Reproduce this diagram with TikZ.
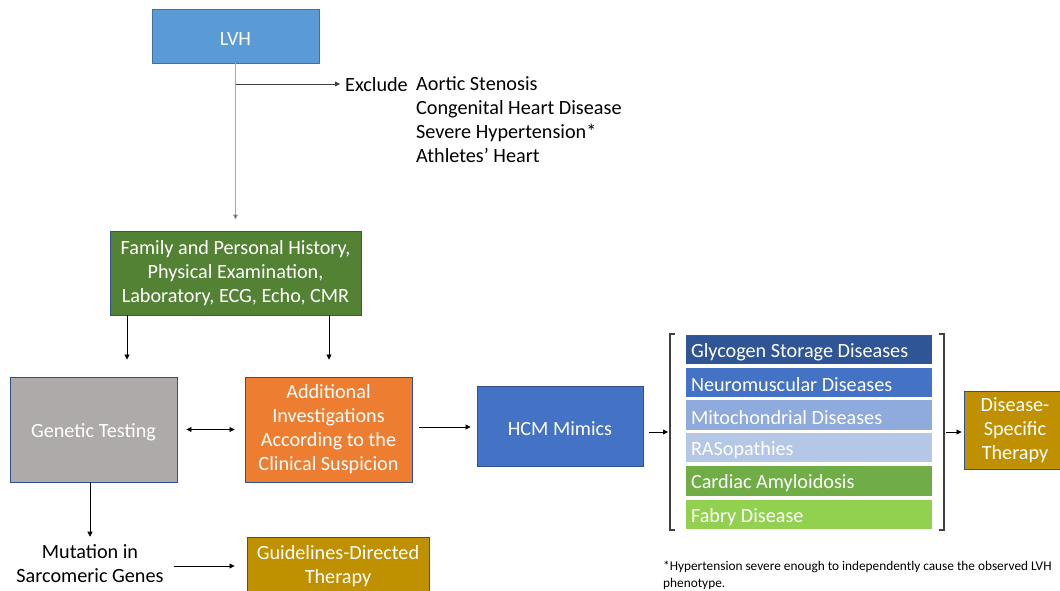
\documentclass[tikz,border=0pt]{standalone}
\usepackage{fontspec}
\setmainfont{Carlito}
\usetikzlibrary{arrows.meta}
\definecolor{lvhc}{HTML}{5B9BD5}
\definecolor{lvhb}{HTML}{41719C}
\definecolor{bordc}{HTML}{2F528F}
\definecolor{famc}{HTML}{548235}
\definecolor{genc}{HTML}{AEAAAA}
\definecolor{addc}{HTML}{ED7D31}
\definecolor{hcmc}{HTML}{4472C4}
\definecolor{goldc}{HTML}{BF9000}
\definecolor{l1}{HTML}{2F5597}
\definecolor{l2}{HTML}{4472C4}
\definecolor{l3}{HTML}{8FAADC}
\definecolor{l4}{HTML}{B4C7E7}
\definecolor{l5}{HTML}{70AD47}
\definecolor{l6}{HTML}{92D050}
\definecolor{dgray}{HTML}{404040}
\definecolor{lgray}{HTML}{A6A6A6}
\tikzset{
  box/.style={draw=bordc, line width=0.9pt, text=white, align=flush center, inner sep=0pt, execute at begin node={\rule{0pt}{19pt}}},
  bar/.style={draw=white, line width=1.2pt, text=white, align=flush left, text width=236pt, inner xsep=6pt, inner ysep=0pt, minimum width=248pt, minimum height=31pt, execute at begin node={\rule{0pt}{19pt}}},
  arr/.style={line width=0.8pt, -{Triangle[length=5pt,width=5pt]}},
  darr/.style={line width=0.8pt, {Triangle[length=5pt,width=5pt]}-{Triangle[length=5pt,width=5pt]}},
  brk/.style={draw=dgray, line width=1.1pt},
  plain/.style={inner sep=0pt, align=flush center}
}
\begin{document}
\begin{tikzpicture}[x=1pt,y=-1pt,font=\fontsize{20.2}{24}\selectfont]
\useasboundingbox (0,0) rectangle (1060,591);
% boxes
\node[box, fill=lvhc, draw=lvhb, minimum width=167pt, minimum height=54pt] (lvh) at (235.5,36) {LVH};
\node[box, fill=famc, minimum width=251pt, minimum height=84pt] (fam) at (235.5,273) {Family and Personal History,\\Physical Examination,\\Laboratory, ECG, Echo, CMR};
\node[box, fill=genc, minimum width=167pt, minimum height=105pt] (gen) at (93.5,429.5) {Genetic Testing};
\node[box, fill=addc, minimum width=167pt, minimum height=105pt] (add) at (328.5,429.5) {Additional\\Investigations\\According to the\\Clinical Suspicion};
\node[box, fill=hcmc, minimum width=166pt, minimum height=80pt] (hcm) at (560,426) {HCM Mimics};
\node[box, fill=goldc, minimum width=102pt, minimum height=78pt] (ds) at (1015,430) {Disease-\\Specific\\Therapy};
\node[box, fill=goldc, minimum width=182pt, minimum height=58pt] (gdt) at (338,566) {Guidelines-Directed\\Therapy};
\node[plain] (mut) at (90,564) {Mutation in\\Sarcomeric Genes};
% exclude text
\node[plain, anchor=west] (exc) at (345,85) {Exclude};
\node[plain, anchor=west, align=flush left] (exl) at (416,120) {Aortic Stenosis\\Congenital Heart Disease\\Severe Hypertension*\\Athletes’ Heart};
% list bars
\node[bar, fill=l1] (g1) at (809,349.5) {Glycogen Storage Diseases};
\node[bar, fill=l2] (g2) at (809,382.5) {Neuromuscular Diseases};
\node[bar, fill=l3] (g3) at (809,415) {Mitochondrial Diseases};
\node[bar, fill=l4] (g4) at (809,447.5) {RASopathies};
\node[bar, fill=l5] (g5) at (809,481) {Cardiac Amyloidosis};
\node[bar, fill=l6] (g6) at (809,514.5) {Fabry Disease};
% brackets
\coordinate (bl) at (670,432);
\coordinate (br) at (944,432);
\draw[brk] (675,334) -- (670,334) -- (670,530) -- (675,530);
\draw[brk] (939,334) -- (944,334) -- (944,530) -- (939,530);
% connectors
\coordinate (xa) at (127,0);
\coordinate (xb) at (329,0);
\coordinate (yh) at (0,427);
\coordinate (jn) at (236,84);
\draw[line width=0.8pt, draw=lgray, -{Triangle[length=5pt,width=5pt,fill=dgray]}, shorten >=11pt] (lvh.south) -- (fam.north);
\draw[arr, draw=dgray, shorten >=5pt] (jn) -- (exc.west |- jn);
\draw[arr, shorten >=17pt] (fam.south -| xa) -- (gen.north -| xa);
\draw[arr, shorten >=17pt] (fam.south -| xb) -- (add.north -| xb);
\draw[darr, shorten <=9pt, shorten >=10pt] (gen.east) -- (add.west);
\draw[arr, shorten <=7pt, shorten >=6pt] (add.east |- yh) -- (hcm.west |- yh);
\draw[arr, shorten <=6pt, shorten >=2pt] (hcm.east |- bl) -- (bl);
\draw[arr, shorten <=2pt, shorten >=2pt] (br) -- (ds.west |- br);
\draw[arr, shorten >=8pt] (gen.south -| mut) -- (mut.north);
\draw[arr, shorten <=10pt, shorten >=12pt] (mut.east |- gdt.west) -- (gdt.west);
% footnote
\node[plain, anchor=north west, align=flush left, font=\fontsize{13.3}{17}\selectfont] (fn) at (663,561) {*Hypertension severe enough to independently cause the observed LVH\\phenotype.};
\end{tikzpicture}
\end{document}
